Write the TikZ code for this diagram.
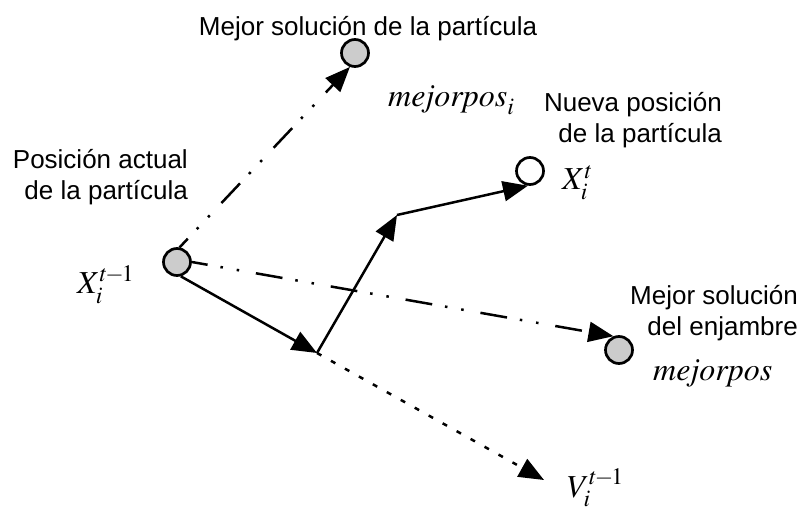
\documentclass[tikz,border=0pt]{standalone}
\usepackage{mathptmx}
\usepackage[no-math]{fontspec}
\setmainfont{Liberation Sans}
\usetikzlibrary{arrows.meta}
\begin{document}
\begin{tikzpicture}[x=1pt,y=-1pt,
  dotc/.style={circle,draw,line width=2.7pt,fill=gray!40,minimum size=27pt,inner sep=0pt},
  opc/.style={circle,draw,line width=2.7pt,fill=white,minimum size=27pt,inner sep=0pt},
  tip/.style={-{Triangle[length=25pt,width=20pt]}},
  solidarr/.style={tip,line width=2.5pt},
  ddd/.style={tip,line width=2.5pt,dash pattern=on 27pt off 13pt on 2.5pt off 14pt on 2.5pt off 17pt},
  dotarr/.style={tip,line width=2.5pt,dash pattern=on 5pt off 11pt},
  lab/.style={inner sep=0pt,font=\fontsize{26}{31}\selectfont},
  mth/.style={inner sep=0pt,font=\fontsize{32}{38}\selectfont}]
\useasboundingbox (0,0) rectangle (810,510);
% circles
\node[dotc] (cur) at (177,262) {};
\node[dotc] (pb) at (355,53) {};
\node[opc] (nw) at (530,171) {};
\node[dotc] (gb) at (619,350) {};
\coordinate (J) at (317,353);
\coordinate (K) at (397,215);
\coordinate (Vt) at (544,480);
% connectors
\draw[ddd,dash phase=15pt] (cur.80) -- (pb.250);
\draw[ddd,dash phase=11pt] (cur.east) -- (gb.112);
\draw[solidarr] (cur.285) -- (J);
\draw[solidarr] (J) -- (K);
\draw[solidarr] (K) -- (nw.262);
\draw[dotarr] (J) -- (Vt);
% labels
\node[lab,anchor=base] (tpb) at (368,36) {Mejor solución de la partícula};
\node[lab,align=right,anchor=base east] (tnw) at (722,143) {Nueva posición\\de la partícula};
\node[lab,align=right,anchor=base east] (tcur) at (188,200) {Posición actual\\de la partícula};
\node[lab,align=right,anchor=base east] (tgb) at (798,335) {Mejor solución\\del enjambre};
\node[mth,anchor=base west] (mpi) at (388,107) {$\mathit{mejorpos}_i$};
\node[mth,anchor=base west] (mp) at (653,380) {$\mathit{mejorpos}$};
\node[mth,anchor=base west] (xt) at (562,190) {$X_i^t$};
\node[mth,anchor=base west] (xt1) at (77,294) {$X_i^{t\mkern-1.5mu-\mkern-1.5mu1}$};
\node[mth,anchor=base west] (vt1) at (567,497) {$V_i^{t\mkern-1.5mu-\mkern-1.5mu1}$};
\end{tikzpicture}
\end{document}
